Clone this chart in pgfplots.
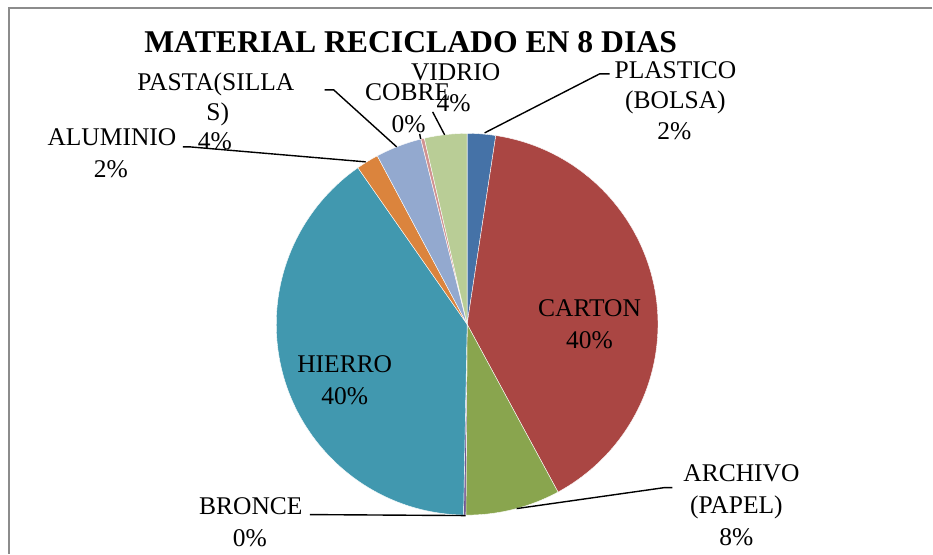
\documentclass[border=0pt]{standalone}
\usepackage{fontspec}
\setmainfont{Liberation Serif}
\usepackage{pgfplots}
\usepackage{pgfplotstable}
\pgfplotsset{compat=1.18}

\definecolor{cPlas}{HTML}{4572A7}
\definecolor{cCart}{HTML}{AA4643}
\definecolor{cArch}{HTML}{89A54E}
\definecolor{cBron}{HTML}{71588F}
\definecolor{cHier}{HTML}{4198AF}
\definecolor{cAlum}{HTML}{DB843D}
\definecolor{cPast}{HTML}{93A9CF}
\definecolor{cCobr}{HTML}{D19392}
\definecolor{cVidr}{HTML}{B9CD96}
\definecolor{frame}{HTML}{8C8C8C}

% percentage of each material (clockwise from 12 o'clock)
\pgfplotstableread{
name     value col
PLASTICO 2.4   cPlas
CARTON   39.7  cCart
ARCHIVO  8.0   cArch
BRONCE   0.2   cBron
HIERRO   40.0  cHier
ALUMINIO 1.9   cAlum
PASTA    3.9   cPast
COBRE    0.3   cCobr
VIDRIO   3.6   cVidr
}\piedata

\newcommand{\lfont}{\fontsize{25.5bp}{30bp}\selectfont}
\newcommand{\lbl}[3]{\node[anchor=base,inner sep=0pt,font=\lfont] at (axis cs:#1,#2) {#3};}

\begin{document}
\begin{tikzpicture}
\begin{axis}[x=1bp, y=1bp, xmin=0, xmax=933, ymin=0, ymax=554,
  hide axis, clip=false]
\path[fill=white] (axis cs:0,0) rectangle (axis cs:933,554);
\draw[frame, line width=1.5bp] (axis cs:9,0) -- (axis cs:9,546) -- (axis cs:933,546);

\def\cx{467.5}\def\cy{229.5}\def\rr{191bp}
\def\cum{0}
\pgfplotsforeachungrouped \i in {0,...,8}{%
  \pgfplotstablegetelem{\i}{value}\of\piedata \let\v\pgfplotsretval
  \pgfplotstablegetelem{\i}{col}\of\piedata \let\col\pgfplotsretval
  \pgfmathsetmacro\a{90-\cum*3.6}%
  \pgfmathsetmacro\b{90-(\cum+\v)*3.6}%
  \edef\temp{\noexpand\fill[\col, draw=white, line width=0.4bp] (axis cs:\cx,\cy) -- ([shift={(\a:\rr)}]axis cs:\cx,\cy) arc[start angle=\a, end angle=\b, radius=\rr] -- cycle;}%
  \temp
  \pgfmathsetmacro\cum{\cum+\v}%
}

% leader lines
\draw[black, line width=1.4bp] (axis cs:485,421) -- (axis cs:600,480) -- (axis cs:610,480);
\draw[black, line width=1.4bp] (axis cs:433,442) -- (axis cs:445,419);
\draw[black, line width=1.4bp] (axis cs:420,420) -- (axis cs:421,415);
\draw[black, line width=1.4bp] (axis cs:325,464) -- (axis cs:334,464) -- (axis cs:397,407);
\draw[black, line width=1.4bp] (axis cs:183,407) -- (axis cs:190,407) -- (axis cs:366,392);
\draw[black, line width=1.4bp] (axis cs:310,39) -- (axis cs:466,38);
\draw[black, line width=1.4bp] (axis cs:517,45) -- (axis cs:665,66) -- (axis cs:673,66);

% title
\node[anchor=base,inner sep=0pt,font=\fontsize{31.7bp}{36bp}\selectfont\bfseries] at (axis cs:411,501.5) {MATERIAL RECICLADO EN 8 DIAS};

% labels
\lbl{676}{475.5}{PLASTICO}
\lbl{676}{445.5}{(BOLSA)}
\lbl{675}{414.5}{2\%}
\lbl{456}{473.5}{VIDRIO}
\lbl{454}{442.5}{4\%}
\lbl{408}{453.5}{COBRE}
\lbl{409}{421.5}{0\%}
\lbl{216}{463.5}{PASTA(SILLA}
\lbl{218}{433.5}{S)}
\lbl{215}{404.5}{4\%}
\lbl{112}{408.5}{ALUMINIO}
\lbl{111}{376.5}{2\%}
\lbl{251}{39.5}{BRONCE}
\lbl{250}{7.5}{0\%}
\lbl{742}{72.5}{ARCHIVO}
\lbl{737}{40.5}{(PAPEL)}
\lbl{737}{8.5}{8\%}
\lbl{590}{237.5}{CARTON}
\lbl{590}{205.5}{40\%}
\lbl{345}{181.5}{HIERRO}
\lbl{345}{149.5}{40\%}
\end{axis}
\end{tikzpicture}
\end{document}
